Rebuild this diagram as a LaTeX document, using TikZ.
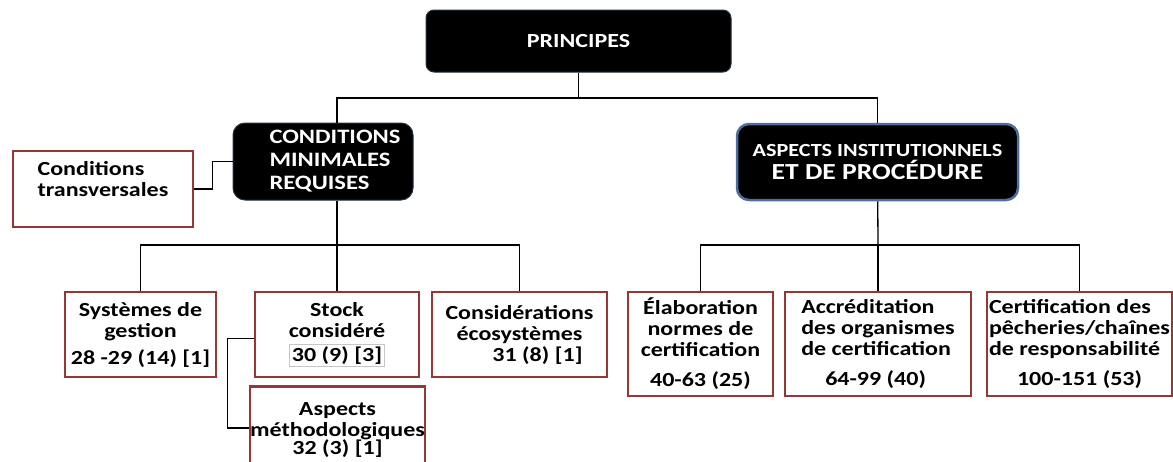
\documentclass[tikz,border=0pt]{standalone}
\usepackage{fontspec}
\setmainfont{Carlito}[FakeStretch=1.2]
\usepackage{tikz}
\usetikzlibrary{positioning}

\definecolor{boxred}{RGB}{149,55,53}
\definecolor{aipblue}{RGB}{79,110,160}
\definecolor{darkline}{RGB}{35,50,70}
\newcommand\numbox[1]{{\setlength\fboxsep{1.5pt}\setlength\fboxrule{1pt}\fcolorbox{gray!45}{white}{#1}}}

\begin{document}
\begin{tikzpicture}[x=1pt,y=-1pt,node font=\bfseries,line width=1.3pt]
	\tikzstyle{darkbox}=[draw=darkline,line width=1pt,fill=black,text=white,align=center]
	\tikzstyle{redbox}=[draw=boxred,line width=2.5pt,fill=white,align=center,inner sep=1pt,font=\fontsize{20}{21}\selectfont]
	\tikzstyle{link}=[draw=black,line width=1.3pt]
	\useasboundingbox (0,0) rectangle (1173,461);
	\clip (0,0) rectangle (1173,461);

	\node[darkbox,rounded corners=8pt,minimum width=305pt,minimum height=62pt,font=\fontsize{20}{22}\selectfont] (PR) at (578.5,41) {PRINCIPES};
	\node[darkbox,rounded corners=12pt,minimum width=180pt,minimum height=77pt,align=left,font=\fontsize{20.5}{23}\selectfont] (CMR) at (323,161.5) {\hspace*{24pt}CONDITIONS\\\hspace*{24pt}MINIMALES\\\hspace*{24pt}REQUISES};
	\node[darkbox,draw=aipblue,line width=2.5pt,rounded corners=12pt,minimum width=281pt,minimum height=76pt] (AIP) at (877.5,162) {\fontsize{18.5}{22}\selectfont ASPECTS INSTITUTIONNELS\\[2pt]\fontsize{23}{24}\selectfont ET DE PROCÉDURE};
	\node[redbox,minimum width=180pt,minimum height=76pt,align=left] (CT) at (103,189) {Conditions\\transversales\\\mbox{}};

	\node[redbox,minimum width=151pt,minimum height=85pt] (SG) at (140.5,334.5) {Systèmes de\\gestion\\[6pt]28 -29 (14) [1]};
	\node[redbox,minimum width=164pt,minimum height=85pt] (SC) at (337,334.5) {Stock\\considéré\\[3pt]\numbox{30 (9) [3]}};
	\node[redbox,minimum width=175pt,minimum height=85pt] (CE) at (519.5,334.5) {Considérations\\écosystèmes\\\hspace*{36pt}31 (8) [1]};
	\node[redbox,minimum width=175pt,minimum height=87pt] (AM) at (337.5,430) {Aspects\\\makebox[150pt]{méthodologiques}\\[-3pt]32 (3) [1]};

	\node[redbox,minimum width=145pt,minimum height=104pt] (ENC) at (700.5,344) {Élaboration\\normes de\\certification\\[9pt]40-63 (25)};
	\node[redbox,minimum width=186pt,minimum height=104pt,align=left] (ADO) at (878,344) {Accréditation\\des organismes\\de certification\\[9pt]\hspace*{24pt}64-99 (40)};
	\node[redbox,minimum width=185pt,minimum height=104pt,align=left] (CPC) at (1079.5,344) {Certification des\\pêcheries/chaînes\\de responsabilité\\[9pt]\hspace*{28pt}100-151 (53)};

	\coordinate (b1) at (578.5,98);
	\coordinate (b2) at (337,245);
	\coordinate (b3) at (878,245);

	\draw[link] (PR) -- (b1) -| ([xshift=14pt]CMR.north);
	\draw[link] (b1) -| (AIP);
	\draw[link] ([xshift=14pt]CMR.south) -- (b2);
	\draw[link] (b2) -| (SG);
	\draw[link] (b2) -- (SC);
	\draw[link] (b2) -| (CE);
	\draw[link] (AIP) -- (b3);
	\draw[link] (b3) -| (ENC);
	\draw[link] (b3) -- (ADO);
	\draw[link] (b3) -| (CPC);
	\draw[link] (CMR.west) -- ++(-20,0) |- (CT);
	\draw[link] ([yshift=-4pt]SC.west) -- ++(-26,0) |- ([yshift=2pt]AM.west);
\end{tikzpicture}
\end{document}
